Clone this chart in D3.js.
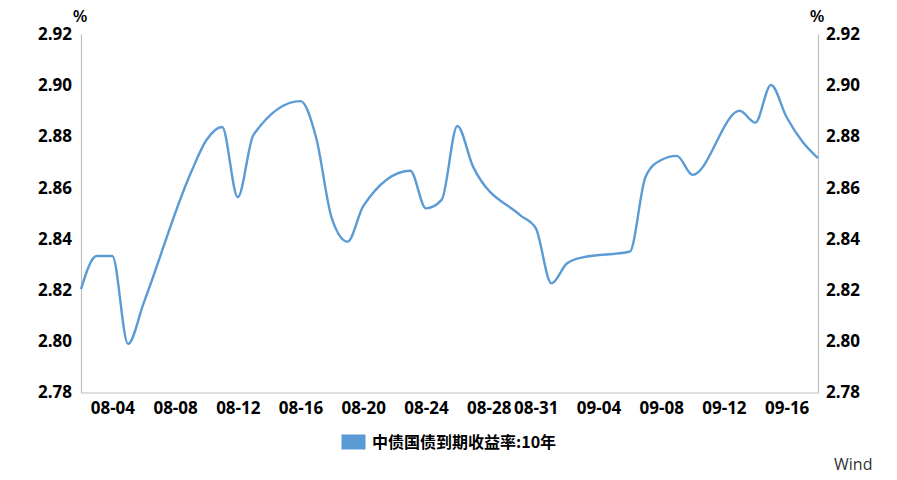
<!DOCTYPE html>
<html>
<head>
<meta charset="utf-8">
<script src="https://cdn.jsdelivr.net/npm/d3@7"></script>
<style>
  html, body { margin: 0; padding: 0; background: #fff; }
  svg { display: block; }
  .tick text { font-family: "Open Sans", "Noto Sans", sans-serif; font-weight: 700; font-size: 17px; fill: #000; }
</style>
</head>
<body>
<svg id="chart" width="897" height="480"></svg>
<script>
// ---- data ----
const dates = ["2021-08-02","2021-08-03","2021-08-04","2021-08-05","2021-08-06","2021-08-09","2021-08-10","2021-08-11","2021-08-12","2021-08-13","2021-08-16","2021-08-17","2021-08-18","2021-08-19","2021-08-20","2021-08-23","2021-08-24","2021-08-25","2021-08-26","2021-08-27","2021-08-30","2021-08-31","2021-09-01","2021-09-02","2021-09-03","2021-09-06","2021-09-07","2021-09-08","2021-09-09","2021-09-10","2021-09-13","2021-09-14","2021-09-15","2021-09-16","2021-09-17","2021-09-18"];
const yields = [2.8204,2.8333,2.8333,2.7990,2.8150,2.8657,2.8786,2.8837,2.8563,2.8806,2.8938,2.8794,2.8479,2.8389,2.8528,2.8666,2.8519,2.8552,2.8841,2.8682,2.8493,2.8442,2.8226,2.8305,2.8328,2.8350,2.8642,2.8708,2.8724,2.8650,2.8900,2.8854,2.9001,2.8875,2.8780,2.8715];
const xTickLabels = ["2021-08-04","2021-08-08","2021-08-12","2021-08-16","2021-08-20","2021-08-24","2021-08-28","2021-08-31","2021-09-04","2021-09-08","2021-09-12","2021-09-16"];
const yTicks = [2.78,2.80,2.82,2.84,2.86,2.88,2.90,2.92];
const seriesName = "中债国债到期收益率:10年";
const domainStart = "2021-08-02", domainEnd = "2021-09-18";

// ---- drawing ----
(function () {
const parse = d3.timeParse("%Y-%m-%d");
const data = dates.map((d, i) => ({ date: parse(d), value: yields[i] }));
const svg = d3.select("#chart");
const pLeft = 81, pRight = 818, pTop = 34, pBottom = 392.5;
const color = "#5b9bd5";
const axisColor = "#bfbfbf";

const x = d3.scaleTime().domain([parse(domainStart), parse(domainEnd)]).range([pLeft, pRight]);
const y = d3.scaleLinear().domain([2.78, 2.92]).range([pBottom, pTop]);

// axes
const gL = svg.append("g").attr("transform", `translate(${pLeft},0)`)
  .call(d3.axisLeft(y).tickValues(yTicks).tickFormat(d3.format(".2f")).tickSize(0).tickPadding(9));
const gR = svg.append("g").attr("transform", `translate(${pRight},0)`)
  .call(d3.axisRight(y).tickValues(yTicks).tickFormat(d3.format(".2f")).tickSize(0).tickPadding(8));
const gB = svg.append("g").attr("transform", `translate(0,${pBottom})`)
  .call(d3.axisBottom(x).tickValues(xTickLabels.map(parse)).tickFormat(d3.timeFormat("%m-%d")).tickSize(0).tickPadding(9));
[gL, gR, gB].forEach(g => g.select(".domain").attr("stroke", axisColor).attr("stroke-width", 1.2));
gB.selectAll(".tick text").attr("dy", "0.71em");

// units
svg.append("text").attr("x", pLeft - 1).attr("y", 22).attr("text-anchor", "middle")
  .style("font-family", "Open Sans, sans-serif").style("font-size", "17px").style("font-weight", 600).text("%");
svg.append("text").attr("x", pRight - 1).attr("y", 22).attr("text-anchor", "middle")
  .style("font-family", "Open Sans, sans-serif").style("font-size", "17px").style("font-weight", 600).text("%");

// line
const line = d3.line().x(d => x(d.date)).y(d => y(d.value)).curve(d3.curveMonotoneX);
svg.append("path").datum(data).attr("fill", "none").attr("stroke", color)
  .attr("stroke-width", 2.4).attr("stroke-linejoin", "round").attr("d", line);

// legend
svg.append("rect").attr("x", 341.5).attr("y", 434.5).attr("width", 24).attr("height", 15).attr("fill", color);
svg.append("text").attr("x", 372).attr("y", 448)
  .style("font-family", "'Noto Sans CJK SC', sans-serif").style("font-size", "16px").style("font-weight", 700)
  .attr("fill", "#000").text(seriesName);

// source
svg.append("text").attr("x", 834).attr("y", 470)
  .style("font-family", "Open Sans, sans-serif").style("font-size", "16px").attr("fill", "#333").text("Wind");
})();
</script>
</body>
</html>
